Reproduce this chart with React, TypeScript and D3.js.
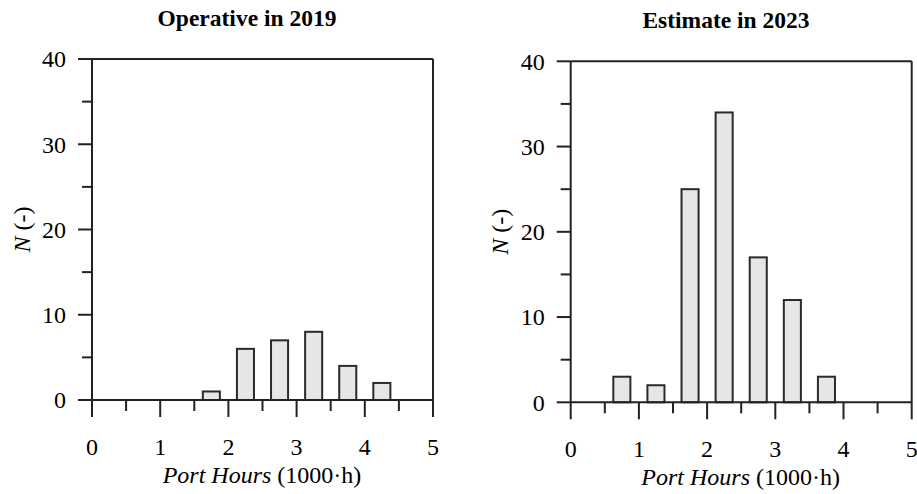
import * as d3 from "d3";

// bin centres (1000 h) and counts
const centers2019 = [1.75, 2.25, 2.75, 3.25, 3.75, 4.25];
const counts2019 = [1, 6, 7, 8, 4, 2];
const centers2023 = [0.75, 1.25, 1.75, 2.25, 2.75, 3.25, 3.75];
const counts2023 = [3, 2, 25, 34, 17, 12, 3];

const xTicks = [0, 1, 2, 3, 4, 5];
const xMinor = [0.5, 1.5, 2.5, 3.5, 4.5];
const yTicks = [0, 10, 20, 30, 40];
const yMinor = [5, 15, 25, 35];

const FONT = "'Liberation Serif', 'Times New Roman', serif";
const INK = "#222";

type PanelProps = {
  title: string;
  centers: number[];
  counts: number[];
  left: number;
  right: number;
  top: number;
  bottom: number;
  titleX: number;
  labelX: number;
};

const Panel = ({ title, centers, counts, left, right, top, bottom, titleX, labelX }: PanelProps) => {
  const x = d3.scaleLinear().domain([0, 5]).range([left, right]);
  const y = d3.scaleLinear().domain([0, 40]).range([bottom, top]);
  const barW = x(0.25) - x(0);
  const data = centers.map((c, i) => ({ c, n: counts[i] }));

  return (
    <g>
      <text x={titleX} y={top - 33} textAnchor="middle" fontFamily={FONT} fontWeight="bold" fontSize={23.5}>
        {title}
      </text>

      {/* bars */}
      {data.map((d, i) => (
        <rect
          key={i}
          x={x(d.c) - barW / 2}
          y={y(d.n)}
          width={barW}
          height={y(0) - y(d.n)}
          fill="#e6e6e6"
          stroke="#2a2a2a"
          strokeWidth={2}
        />
      ))}

      {/* frame */}
      <line x1={left} x2={right} y1={top} y2={top} stroke={INK} strokeWidth={2} />
      <line x1={right} x2={right} y1={top} y2={bottom} stroke={INK} strokeWidth={2} />
      <line x1={left} x2={left} y1={top} y2={bottom} stroke={INK} strokeWidth={2} />
      <line x1={left} x2={right} y1={bottom} y2={bottom} stroke={INK} strokeWidth={2} />

      {/* y axis */}
      {yTicks.map((t) => (
        <g key={"y" + t}>
          <line x1={left - 14} x2={left} y1={y(t)} y2={y(t)} stroke={INK} strokeWidth={2} />
          <text x={left - 26} y={y(t)} dy="0.35em" textAnchor="end" fontFamily={FONT} fontSize={24}>
            {t}
          </text>
        </g>
      ))}
      {yMinor.map((t) => (
        <line key={"ym" + t} x1={left - 10} x2={left} y1={y(t)} y2={y(t)} stroke={INK} strokeWidth={2} />
      ))}

      {/* x axis */}
      {xTicks.map((t) => (
        <g key={"x" + t}>
          <line x1={x(t)} x2={x(t)} y1={bottom} y2={bottom + 17} stroke={INK} strokeWidth={2} />
          <text x={x(t)} y={bottom + 55} textAnchor="middle" fontFamily={FONT} fontSize={24}>
            {t}
          </text>
        </g>
      ))}
      {xMinor.map((t) => (
        <line key={"xm" + t} x1={x(t)} x2={x(t)} y1={bottom} y2={bottom + 11} stroke={INK} strokeWidth={2} />
      ))}

      <text x={(left + right) / 2 - 0.5} y={bottom + 83} textAnchor="middle" fontFamily={FONT} fontSize={24}>
        <tspan fontStyle="italic">Port Hours</tspan> (1000·h)
      </text>

      <text
        transform={`translate(${labelX},${(top + bottom) / 2}) rotate(-90)`}
        dy="0.35em"
        textAnchor="middle"
        fontFamily={FONT}
        fontSize={24}
      >
        <tspan fontStyle="italic">N</tspan> (-)
      </text>
    </g>
  );
};

export default function App() {
  return (
    <svg width={917} height={494} style={{ display: "block", position: "absolute", left: 0, top: 0, background: "#fff" }}>
      <Panel
        title="Operative in 2019"
        centers={centers2019}
        counts={counts2019}
        left={92}
        right={433}
        top={59}
        bottom={400}
        titleX={247}
        labelX={22}
      />
      <Panel
        title="Estimate in 2023"
        centers={centers2023}
        counts={counts2023}
        left={570.7}
        right={911.7}
        top={61.3}
        bottom={402.3}
        titleX={726}
        labelX={500}
      />
    </svg>
  );
}
